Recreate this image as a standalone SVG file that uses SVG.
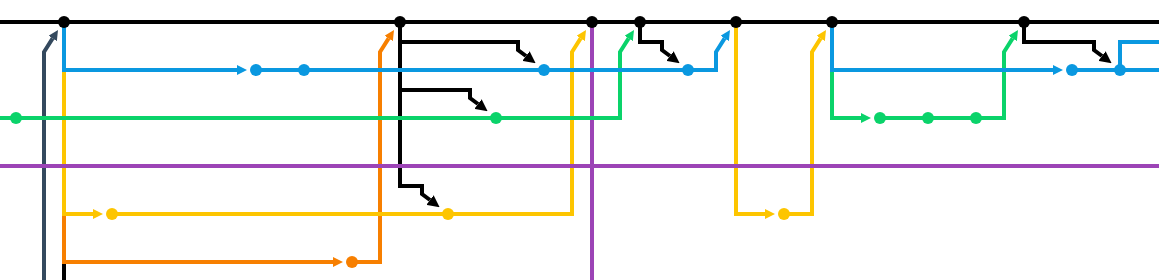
<svg xmlns="http://www.w3.org/2000/svg" width="1159" height="280" viewBox="0 0 1159 280">
<style>
.l{fill:none;stroke-width:4;stroke-linejoin:miter}
.k{stroke:#000}.b{stroke:#0a98e0}.g{stroke:#0ad36a}.y{stroke:#fdc500}.o{stroke:#f77f00}.p{stroke:#9c44b6}.s{stroke:#34495e}
.dk{fill:#000}.db{fill:#0a98e0}.dg{fill:#0ad36a}.dy{fill:#fdc500}.do{fill:#f77f00}
</style>
<defs>
<marker id="ak" markerUnits="userSpaceOnUse" markerWidth="12" markerHeight="12" refX="0" refY="5" orient="auto" viewBox="0 0 10 10"><path d="M0,0L10,5L0,10z" fill="#000"/></marker>
<marker id="ab" markerUnits="userSpaceOnUse" markerWidth="10" markerHeight="10" refX="0" refY="5" orient="auto" viewBox="0 0 10 10"><path d="M0,0L10,5L0,10z" fill="#0a98e0"/></marker>
<marker id="ag" markerUnits="userSpaceOnUse" markerWidth="10" markerHeight="10" refX="0" refY="5" orient="auto" viewBox="0 0 10 10"><path d="M0,0L10,5L0,10z" fill="#0ad36a"/></marker>
<marker id="ay" markerUnits="userSpaceOnUse" markerWidth="10" markerHeight="10" refX="0" refY="5" orient="auto" viewBox="0 0 10 10"><path d="M0,0L10,5L0,10z" fill="#fdc500"/></marker>
<marker id="ao" markerUnits="userSpaceOnUse" markerWidth="10" markerHeight="10" refX="0" refY="5" orient="auto" viewBox="0 0 10 10"><path d="M0,0L10,5L0,10z" fill="#f77f00"/></marker>
<marker id="as" markerUnits="userSpaceOnUse" markerWidth="10" markerHeight="10" refX="0" refY="5" orient="auto" viewBox="0 0 10 10"><path d="M0,0L10,5L0,10z" fill="#34495e"/></marker>
</defs>
<g id="connectors">
<path class="l s" d="M44,280V52L52.63,38.44" marker-end="url(#as)"/>
<path class="l k" d="M64,262V280"/>
<path class="l k" d="M400,22V186H422V194L430,200" marker-end="url(#ak)"/>
<path class="l k" d="M400,42H518V50L526,56" marker-end="url(#ak)"/>
<path class="l k" d="M400,90H470V98L478,104" marker-end="url(#ak)"/>
<path class="l p" d="M592,22V280"/>
<path class="l o" d="M64,214V262H333" marker-end="url(#ao)"/>
<path class="l o" d="M352,262H380V52L388.63,38.44" marker-end="url(#ao)"/>
<path class="l y" d="M64,70V214H93" marker-end="url(#ay)"/>
<path class="l y" d="M112,214H572V52L580.63,38.44" marker-end="url(#ay)"/>
<path class="l y" d="M736,22V214H765" marker-end="url(#ay)"/>
<path class="l y" d="M784,214H812V52L820.63,38.44" marker-end="url(#ay)"/>
<path class="l g" d="M0,118H620V52L628.63,38.44" marker-end="url(#ag)"/>
<path class="l g" d="M832,70V118H861" marker-end="url(#ag)"/>
<path class="l g" d="M880,118H1004V52L1012.63,38.44" marker-end="url(#ag)"/>
<path class="l b" d="M64,22V70H237" marker-end="url(#ab)"/>
<path class="l b" d="M256,70H716V52L724.63,38.44" marker-end="url(#ab)"/>
<path class="l b" d="M832,22V70H1053" marker-end="url(#ab)"/>
<path class="l b" d="M1072,70H1159M1120,70V42H1159"/>
<path class="l p" d="M0,166H1159"/>
<path class="l k" d="M0,22H1159"/>
<path class="l k" d="M640,22V42H662V50L670,56" marker-end="url(#ak)"/>
<path class="l k" d="M1024,22V42H1094V50L1102,56" marker-end="url(#ak)"/>
</g>
<g id="c-main-64"><circle class="dk" cx="64" cy="22" r="6"/></g>
<g id="c-main-400"><circle class="dk" cx="400" cy="22" r="6"/></g>
<g id="c-main-592"><circle class="dk" cx="592" cy="22" r="6"/></g>
<g id="c-main-640"><circle class="dk" cx="640" cy="22" r="6"/></g>
<g id="c-main-736"><circle class="dk" cx="736" cy="22" r="6"/></g>
<g id="c-main-832"><circle class="dk" cx="832" cy="22" r="6"/></g>
<g id="c-main-1024"><circle class="dk" cx="1024" cy="22" r="6"/></g>
<g id="c-blue-256"><circle class="db" cx="256" cy="70" r="6"/></g>
<g id="c-blue-304"><circle class="db" cx="304" cy="70" r="6"/></g>
<g id="c-blue-544"><circle class="db" cx="544" cy="70" r="6"/></g>
<g id="c-blue-688"><circle class="db" cx="688" cy="70" r="6"/></g>
<g id="c-blue-1072"><circle class="db" cx="1072" cy="70" r="6"/></g>
<g id="c-blue-1120"><circle class="db" cx="1120" cy="70" r="6"/></g>
<g id="c-green-16"><circle class="dg" cx="16" cy="118" r="6"/></g>
<g id="c-green-496"><circle class="dg" cx="496" cy="118" r="6"/></g>
<g id="c-green-880"><circle class="dg" cx="880" cy="118" r="6"/></g>
<g id="c-green-928"><circle class="dg" cx="928" cy="118" r="6"/></g>
<g id="c-green-976"><circle class="dg" cx="976" cy="118" r="6"/></g>
<g id="c-yellow-112"><circle class="dy" cx="112" cy="214" r="6"/></g>
<g id="c-yellow-448"><circle class="dy" cx="448" cy="214" r="6"/></g>
<g id="c-yellow-784"><circle class="dy" cx="784" cy="214" r="6"/></g>
<g id="c-orange-352"><circle class="do" cx="352" cy="262" r="6"/></g>
</svg>
